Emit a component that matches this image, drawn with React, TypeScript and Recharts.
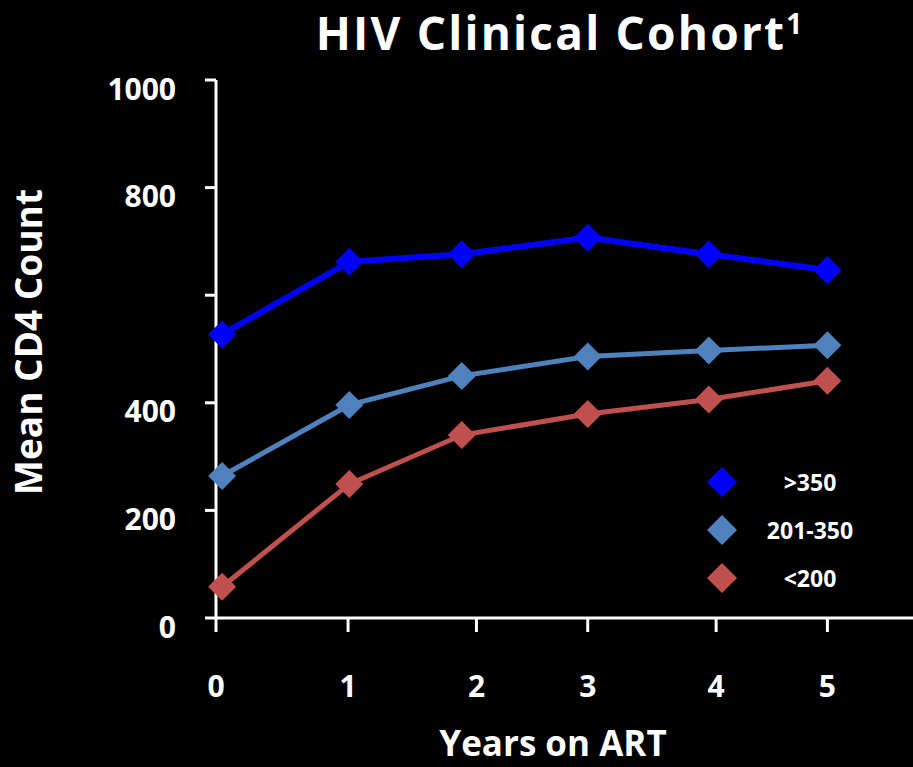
import React from 'react';
import { LineChart, Line, XAxis, YAxis } from 'recharts';

// years on ART (where the markers sit) and mean CD4 per baseline group
const YEARS = [0.05, 1.09, 2.01, 3.04, 4.03, 5.0];
const HIGH = [527, 662, 676, 707, 676, 647];
const MID = [264, 396, 450, 486, 497, 507];
const LOW = [58, 249, 340, 379, 406, 441];

// axis ticks as drawn on the slide
const X_TICKS = [0, 1.08, 2.13, 3.04, 4.09, 5];
const X_TICK_LABELS = ['0', '1', '2', '3', '4', '5'];
const Y_TICKS = [0, 200, 400, 600, 800, 1000];
const Y_UNLABELLED = [600];

const SERIES = [
  { key: 'high', name: '>350', color: '#0000FF', width: 6 },
  { key: 'mid', name: '201-350', color: '#4F81BD', width: 5 },
  { key: 'low', name: '<200', color: '#C0504D', width: 5 },
];

const FONT = "'Open Sans', Lato, sans-serif";

const data = YEARS.map((x, i) => ({ x, high: HIGH[i], mid: MID[i], low: LOW[i] }));

const makeDot = (color: string) => (props: any) => {
  const { cx, cy, index } = props;
  if (cx == null || cy == null) return <g key={`${color}-${index}`} />;
  const r = 14;
  return (
    <path
      key={`${color}-${index}`}
      d={`M${cx},${cy - r}L${cx + r},${cy}L${cx},${cy + r}L${cx - r},${cy}Z`}
      fill={color}
    />
  );
};

const YTick = (props: any) => {
  const { y, payload } = props;
  if (Y_UNLABELLED.includes(payload.value)) return <g />;
  return (
    <text x={176} y={y + 8} textAnchor="end" dominantBaseline="central" fill="#fff"
      fontSize={30} fontWeight={700} fontFamily={FONT}>
      {payload.value}
    </text>
  );
};

const XTick = (props: any) => {
  const { x, index } = props;
  return (
    <text x={x} y={685} textAnchor="middle" dominantBaseline="central" fill="#fff"
      fontSize={30} fontWeight={700} fontFamily={FONT}>
      {X_TICK_LABELS[index]}
    </text>
  );
};

const ChartLegend = () => (
  <div style={{
    position: 'absolute', left: 705, top: 458, width: 176,
    fontFamily: FONT, fontWeight: 700, color: '#fff', fontSize: 23,
  }}>
    {SERIES.map(s => (
      <div key={s.key} style={{ display: 'flex', alignItems: 'center', height: 48 }}>
        <svg width={34} height={34}>
          <path d="M17,2L32,17L17,32L2,17Z" fill={s.color} />
        </svg>
        <span style={{ flex: 1, textAlign: 'center' }}>{s.name}</span>
      </div>
    ))}
  </div>
);

const App: React.FC = () => {
  return (
    <div style={{ position: 'relative', width: 913, height: 767, background: '#000', overflow: 'hidden' }}>
      <style>{'body{margin:0;background:#000}'}</style>
      <div style={{
        position: 'absolute', top: 0, left: 207, width: 706, textAlign: 'center',
        color: '#fff', fontFamily: FONT, fontWeight: 700, fontSize: 46, letterSpacing: 2.2,
        lineHeight: '64px', zIndex: 2,
      }}>
        HIV Clinical Cohort
        <span style={{
          fontSize: 28, lineHeight: '28px', display: 'inline-block',
          verticalAlign: 'top', marginTop: 9,
        }}>1</span>
      </div>
      <LineChart width={913} height={767} data={data} margin={{ top: 80, right: 0, bottom: 0, left: 0 }}>
        <XAxis
          dataKey="x"
          type="number"
          domain={[0, 5.7]}
          ticks={X_TICKS}
          interval={0}
          height={149}
          tick={<XTick />}
          tickSize={14}
          axisLine={{ stroke: '#fff', strokeWidth: 3 }}
          tickLine={{ stroke: '#fff', strokeWidth: 3 }}
          label={{
            content: () => (
              <text x={553} y={756} textAnchor="middle" fill="#fff" fontSize={35}
                fontWeight={700} fontFamily={FONT}>Years on ART</text>
            ),
          }}
        />
        <YAxis
          type="number"
          domain={[0, 1000]}
          ticks={Y_TICKS}
          interval={0}
          width={216}
          tick={<YTick />}
          tickSize={11}
          axisLine={{ stroke: '#fff', strokeWidth: 3 }}
          tickLine={{ stroke: '#fff', strokeWidth: 3 }}
          label={{
            content: () => (
              <text x={-342} y={42} transform="rotate(-90)" textAnchor="middle" fill="#fff"
                fontSize={37} fontWeight={700} fontFamily={FONT}>Mean CD4 Count</text>
            ),
          }}
        />
        {SERIES.map(s => (
          <Line
            key={s.key}
            type="linear"
            dataKey={s.key}
            name={s.name}
            stroke={s.color}
            strokeWidth={s.width}
            dot={makeDot(s.color)}
            activeDot={false}
            isAnimationActive={false}
          />
        ))}
      </LineChart>
      <ChartLegend />
    </div>
  );
};

export default App;
